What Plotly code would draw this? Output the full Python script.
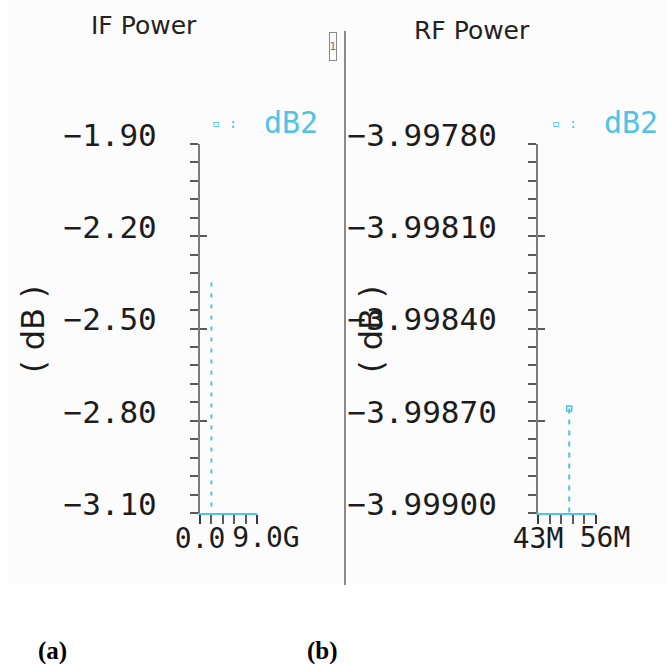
import plotly.graph_objects as go

W, H = 667, 664
CYAN = "#4ec3e6"
AXIS = "#7c7c7c"
TICK = "#5a5a5a"
TXT = "#1c1c1c"
MONO = "DejaVu Sans Mono"
SANS = "DejaVu Sans"

# ---------------- data ----------------
series_name = "dB2"
panel_titles = ["IF Power", "RF Power"]
panel_tags = ["(a)", "(b)"]
y_unit = "( dB )"

if_freq = [1.8e9]
if_power = [-2.35]
if_xrange = [0.0, 9.0e9]
if_xticks = [0.0, 9.0e9]
if_xticktext = ["0.0", "9.0G"]
if_yticks = [-3.10, -2.80, -2.50, -2.20, -1.90]

rf_freq = [50.0e6]
rf_power = [-3.99866]
rf_xrange = [43e6, 56e6]
rf_xticks = [43e6, 56e6]
rf_xticktext = ["43M", "56M"]
rf_yticks = [-3.99900, -3.99870, -3.99840, -3.99810, -3.99780]


def px(p):
    return p / W


def py(p):
    return 1 - p / H


def stems(freqs, powers, base):
    xs, ys = [], []
    for f, p in zip(freqs, powers):
        xs += [f, f, None]
        ys += [p, base, None]
    return xs, ys


fig = go.Figure()

# IF stems (dashed)
sx, sy = stems(if_freq, if_power, if_yticks[0])
fig.add_trace(go.Scatter(x=sx, y=sy, mode="lines", name=series_name,
                         line=dict(color=CYAN, width=2, dash="4px,7px"),
                         xaxis="x", yaxis="y", showlegend=False, hoverinfo="skip"))
# RF stems (dashed with marker at top)
sx, sy = stems(rf_freq, rf_power, rf_yticks[0])
fig.add_trace(go.Scatter(x=sx, y=sy, mode="lines", name=series_name,
                         line=dict(color=CYAN, width=2, dash="5px,6px"),
                         xaxis="x2", yaxis="y2", showlegend=False, hoverinfo="skip"))
fig.add_trace(go.Scatter(x=rf_freq, y=rf_power, mode="markers", name=series_name,
                         marker=dict(symbol="square-open", size=5, color=CYAN,
                                     line=dict(width=1.5, color=CYAN)),
                         xaxis="x2", yaxis="y2", showlegend=False, hoverinfo="skip"))

# invisible traces to hold overlay axes (crossing major ticks, end labels)
for xa, ya, xv, yv in [("x3", "y", if_freq, if_power), ("x", "y3", if_freq, if_power),
                       ("x4", "y2", rf_freq, rf_power), ("x2", "y4", rf_freq, rf_power)]:
    fig.add_trace(go.Scatter(x=xv, y=yv, mode="markers", marker=dict(opacity=0),
                             xaxis=xa, yaxis=ya, showlegend=False, hoverinfo="skip"))

ydom = [py(513), py(144)]
xdom_if = [px(200), px(257)]
xdom_rf = [px(538), px(596)]

tickfont = dict(family=MONO, size=31, color=TXT)
xtickfont = dict(family=MONO, size=28, color=TXT)


def xaxis_main(dom, rng, tv, tt, anchor):
    step = (rng[1] - rng[0]) / 5
    return dict(domain=dom, range=rng, anchor=anchor, showline=True, linecolor=CYAN,
                linewidth=2, showgrid=False, zeroline=False, ticks="outside", ticklen=9,
                tickwidth=2, tickcolor="#3a3a3a", tickmode="array", tickvals=tv,
                ticktext=[tt[0], ""], tickfont=xtickfont, ticklabelstandoff=-10,
                tickangle=0, automargin=False,
                minor=dict(tickmode="linear", tick0=rng[0], dtick=step, ticks="outside",
                           ticklen=9, tickwidth=1.5, tickcolor=TICK),
                fixedrange=True)


def xaxis_over(rng, tv, tt, over, anchor):
    # inner half of the crossing major ticks + the end label (nudged right)
    return dict(overlaying=over, anchor=anchor, range=rng, showline=False, showgrid=False,
                zeroline=False, ticks="inside", ticklen=6, tickwidth=2, tickcolor="#3a3a3a",
                tickmode="array", tickvals=tv, ticktext=["", tt[1]], showticklabels=True,
                tickfont=xtickfont, ticklabelstandoff=5, ticklabelshift=9, tickangle=0,
                fixedrange=True, automargin=False)


def yaxis_main(ticks, fmt, anchor, standoff):
    step = (ticks[1] - ticks[0]) / 5
    return dict(domain=ydom, range=[ticks[0], ticks[-1]], anchor=anchor, showline=True,
                linecolor=AXIS, linewidth=2, showgrid=False, zeroline=False,
                ticks="outside", ticklen=8, tickwidth=2, tickcolor=TICK,
                tickmode="array", tickvals=ticks,
                ticktext=["\u2212" + format(abs(v), fmt) for v in ticks],
                tickfont=tickfont, ticklabelstandoff=standoff, ticklabelshift=-9,
                automargin=False,
                minor=dict(tickmode="linear", tick0=ticks[0], dtick=step, ticks="outside",
                           ticklen=8, tickwidth=2, tickcolor=TICK),
                fixedrange=True)


def yaxis_over(ticks, over, anchor):
    return dict(overlaying=over, anchor=anchor, range=[ticks[0], ticks[-1]], showline=False,
                showgrid=False, zeroline=False, ticks="inside", ticklen=7, tickwidth=2,
                tickcolor=TICK, tickmode="array", tickvals=ticks, showticklabels=False,
                fixedrange=True, automargin=False)


fig.update_layout(
    width=W, height=H, autosize=False,
    margin=dict(l=0, r=0, t=0, b=0, pad=0, autoexpand=False),
    paper_bgcolor="white", plot_bgcolor="rgba(0,0,0,0)",
    showlegend=False,
    xaxis=xaxis_main(xdom_if, if_xrange, if_xticks, if_xticktext, "y"),
    yaxis=yaxis_main(if_yticks, ".2f", "x", 27),
    xaxis2=xaxis_main(xdom_rf, rf_xrange, rf_xticks, rf_xticktext, "y2"),
    yaxis2=yaxis_main(rf_yticks, ".5f", "x2", 25),
    xaxis3=xaxis_over(if_xrange, if_xticks, if_xticktext, "x", "y"),
    yaxis3=yaxis_over(if_yticks, "y", "x"),
    xaxis4=xaxis_over(rf_xrange, rf_xticks, rf_xticktext, "x2", "y2"),
    yaxis4=yaxis_over(rf_yticks, "y2", "x2"),
)

shapes = [
    dict(type="rect", xref="paper", yref="paper", x0=px(8), x1=1, y0=py(585), y1=1,
         fillcolor="#fcfcfc", line=dict(width=0), layer="below"),
    dict(type="line", xref="paper", yref="paper", x0=px(345), x1=px(345),
         y0=py(585), y1=py(31), line=dict(color="#8a8a8a", width=2)),
]
fig.update_layout(shapes=shapes)

ann = []
# panel titles
ann.append(dict(text=panel_titles[0], x=px(144), y=py(25)))
ann.append(dict(text=panel_titles[1], x=px(472), y=py(30)))
for a in ann:
    a.update(xref="paper", yref="paper", showarrow=False, xanchor="center", yanchor="middle",
             font=dict(family=SANS, size=25, color="#222"))
# y unit titles
for xc in (33, 371):
    ann.append(dict(text=y_unit, x=px(xc), y=py(329), xref="paper", yref="paper",
                    showarrow=False, textangle=-90, xanchor="center", yanchor="middle",
                    font=dict(family=SANS, size=32, color=TXT)))
# legend-like series labels
for sym_x, txt_x in ((224, 262), (564, 602)):
    ann.append(dict(text="\u25ab :", x=px(sym_x), y=py(123), xref="paper", yref="paper",
                    showarrow=False, xanchor="center", yanchor="middle",
                    font=dict(family=MONO, size=14, color=CYAN)))
    ann.append(dict(text=series_name, x=px(txt_x), y=py(122), xref="paper", yref="paper",
                    showarrow=False, xanchor="left", yanchor="middle",
                    font=dict(family=MONO, size=30, color=CYAN)))
# small "1" box
ann.append(dict(text="1", x=px(333), y=py(47), xref="paper", yref="paper", showarrow=False,
                xanchor="center", yanchor="middle", width=6, height=27, borderpad=0,
                bordercolor="#8a8a8a", borderwidth=1,
                font=dict(family=SANS, size=11, color="#777")))
# panel tags
for xc, tag in zip((52, 322), panel_tags):
    ann.append(dict(text=tag, x=px(xc), y=py(651), xref="paper", yref="paper",
                    showarrow=False, xanchor="center", yanchor="middle",
                    font=dict(family="Liberation Serif", size=25, color="black", weight="bold")))
fig.update_layout(annotations=ann)

fig.write_html("out.html")
